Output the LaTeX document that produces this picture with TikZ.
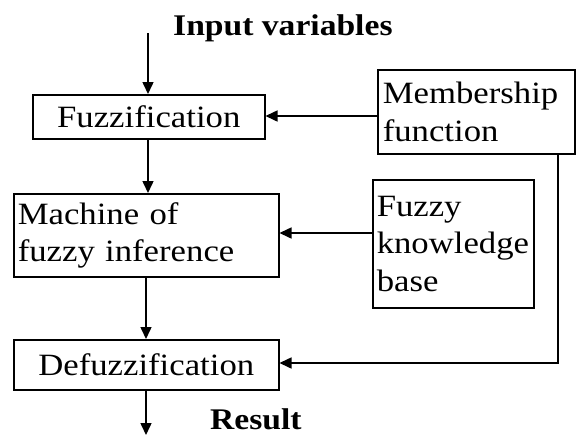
\documentclass[tikz,border=0pt]{standalone}
\usepackage{fontspec}
\setmainfont{Liberation Serif}[FakeStretch=1.12]
\usetikzlibrary{arrows.meta}
\begin{document}
\begin{tikzpicture}[x=1pt,y=-1pt,
  boxnode/.style={draw, line width=1.5pt, inner xsep=6pt, inner ysep=0pt,
     font=\fontsize{31}{37.5}\selectfont, anchor=north west},
  lbl/.style={font=\fontsize{30}{36}\selectfont\bfseries, inner sep=0pt, anchor=base west},
  flow/.style={line width=1.5pt, -{Triangle[length=12pt,width=11pt]}}]
\useasboundingbox (0,0) rectangle (576,437);
% boxes
\node[boxnode, minimum width=232pt, minimum height=44pt, align=center] (fuz) at (32,94) {Fuzzification};
\node[boxnode, minimum width=197pt, minimum height=84pt, text width=187pt, align=left, inner xsep=5pt] (mem) at (377,69) {Membership\\function};
\node[boxnode, minimum width=265pt, minimum height=83pt, text width=257pt, align=left, inner xsep=4pt] (mach) at (13,193) {Machine of\\fuzzy inference};
\node[boxnode, minimum width=161pt, minimum height=128pt, text width=153pt, align=left, inner xsep=4pt] (kb) at (372,179) {Fuzzy\\knowledge\\base};
\node[boxnode, minimum width=265pt, minimum height=50pt, align=center] (def) at (13,339) {Defuzzification};
% labels
\node[lbl] (inp) at (173,35) {Input variables};
\node[lbl] (res) at (210,429) {Result};
% connector endpoints
\coordinate (inTop) at (148,33);
\coordinate (outBot) at (146,435);
\coordinate (corner) at (558,363);
% connectors
\draw[flow] (inTop) -- (inTop |- fuz.north);
\draw[flow] (fuz.south -| 148,0) -- (mach.north -| 148,0);
\draw[flow] (mach.south -| 146,0) -- (def.north -| 146,0);
\draw[flow] (def.south -| 146,0) -- (outBot);
\draw[flow] (mem.west |- 0,116) -- (fuz.east |- 0,116);
\draw[flow] (kb.west |- 0,233) -- (mach.east |- 0,233);
\draw[line width=1.5pt, -{Triangle[length=12pt,width=11pt]}] (mem.south -| corner) -- (corner) -- (def.east |- corner);
\end{tikzpicture}
\end{document}
